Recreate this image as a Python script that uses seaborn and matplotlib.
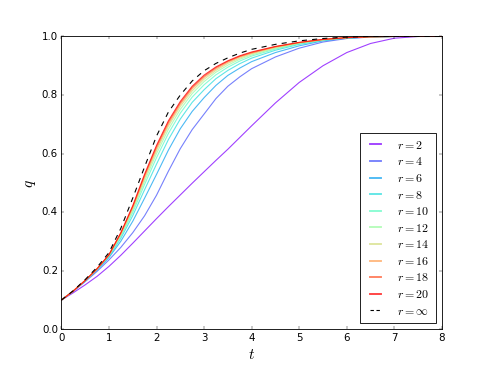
import numpy as np
import matplotlib
matplotlib.use("Agg")
import matplotlib.pyplot as plt
from matplotlib.lines import Line2D
import seaborn as sns

# time grid shared by all curves
t = [0, 0.25, 0.5, 0.75, 1.0, 1.25, 1.5, 1.75, 2.0, 2.25, 2.5, 2.75, 3.0,
     3.25, 3.5, 3.75, 4.0, 4.5, 5.0, 5.5, 6.0, 6.5, 7.0, 7.5, 8.0]

# q(t) for each r
q_r2 = [0.100, 0.125, 0.152, 0.181, 0.215, 0.253, 0.294, 0.336, 0.378, 0.419, 0.459,
        0.499, 0.538, 0.577, 0.615, 0.655, 0.695, 0.773, 0.843, 0.900, 0.945, 0.976,
        0.994, 1.000, 1.000]
q_r4 = [0.100, 0.130, 0.163, 0.198, 0.237, 0.280, 0.330, 0.388, 0.458, 0.540, 0.617,
        0.682, 0.735, 0.788, 0.830, 0.862, 0.890, 0.930, 0.960, 0.981, 0.993, 0.998,
        1.000, 1.000, 1.000]
q_r6 = [0.100, 0.130, 0.165, 0.202, 0.245, 0.301, 0.369, 0.448, 0.529, 0.612, 0.685,
        0.744, 0.791, 0.833, 0.867, 0.892, 0.914, 0.945, 0.968, 0.985, 0.994, 0.998,
        1.000, 1.000, 1.000]
q_r8 = [0.100, 0.131, 0.166, 0.204, 0.248, 0.311, 0.388, 0.477, 0.564, 0.648, 0.718,
        0.775, 0.818, 0.856, 0.884, 0.907, 0.926, 0.953, 0.973, 0.987, 0.995, 0.998,
        1.000, 1.000, 1.000]
q_r10 = [0.100, 0.131, 0.166, 0.205, 0.250, 0.318, 0.399, 0.495, 0.586, 0.669, 0.738,
         0.793, 0.835, 0.869, 0.895, 0.916, 0.933, 0.957, 0.975, 0.988, 0.995, 0.999,
         1.000, 1.000, 1.000]
q_r12 = [0.100, 0.131, 0.167, 0.206, 0.252, 0.322, 0.407, 0.506, 0.600, 0.683, 0.751,
         0.805, 0.846, 0.878, 0.902, 0.922, 0.937, 0.960, 0.977, 0.988, 0.995, 0.999,
         1.000, 1.000, 1.000]
q_r14 = [0.100, 0.131, 0.167, 0.206, 0.253, 0.325, 0.412, 0.515, 0.610, 0.694, 0.761,
         0.814, 0.854, 0.884, 0.908, 0.926, 0.941, 0.962, 0.978, 0.989, 0.996, 0.999,
         1.000, 1.000, 1.000]
q_r16 = [0.100, 0.131, 0.167, 0.206, 0.254, 0.327, 0.416, 0.521, 0.617, 0.701, 0.768,
         0.821, 0.860, 0.889, 0.912, 0.930, 0.943, 0.964, 0.979, 0.989, 0.996, 0.999,
         1.000, 1.000, 1.000]
q_r18 = [0.100, 0.131, 0.167, 0.207, 0.254, 0.329, 0.419, 0.526, 0.623, 0.707, 0.773,
         0.826, 0.864, 0.893, 0.915, 0.932, 0.945, 0.965, 0.979, 0.990, 0.996, 0.999,
         1.000, 1.000, 1.000]
q_r20 = [0.100, 0.131, 0.167, 0.207, 0.255, 0.330, 0.422, 0.530, 0.628, 0.712, 0.778,
         0.830, 0.868, 0.896, 0.917, 0.934, 0.947, 0.966, 0.980, 0.990, 0.996, 0.999,
         1.000, 1.000, 1.000]
q_inf = [0.100, 0.132, 0.170, 0.212, 0.262, 0.345, 0.448, 0.555, 0.660, 0.742, 0.800,
         0.848, 0.883, 0.908, 0.927, 0.943, 0.956, 0.973, 0.985, 0.993, 0.998, 1.000,
         1.000, 1.000, 1.000]

r_values = [2, 4, 6, 8, 10, 12, 14, 16, 18, 20]
curves = [q_r2, q_r4, q_r6, q_r8, q_r10, q_r12, q_r14, q_r16, q_r18, q_r20]

plt.style.use("classic")
plt.rcParams["figure.facecolor"] = "white"
plt.rcParams["savefig.facecolor"] = "white"

fig = plt.figure(figsize=(8, 5.966), dpi=61.375)
ax = fig.add_subplot(111)

colors = plt.cm.rainbow(np.linspace(0, 1, len(r_values)))
handles, labels = [], []
for r, q, c in zip(r_values, curves, colors):
    sns.lineplot(x=t, y=q, color=c, alpha=0.75, lw=1.3, ax=ax, legend=False)
    handles.append(Line2D([], [], color=c, alpha=0.75, lw=2.2))
    labels.append(r"$r = %d$" % r)
sns.lineplot(x=t, y=q_inf, color="k", ls="--", lw=1.3, ax=ax, legend=False)
handles.append(Line2D([], [], color="k", ls="--", lw=1.3, dashes=(4, 3)))
labels.append(r"$r = \infty$")

ax.set_xlim(0, 8)
ax.set_ylim(0, 1)
ax.set_xlabel(r"$t$", fontsize=18)
ax.set_ylabel(r"$q$", fontsize=18)
ax.legend(handles, labels, loc="lower right", fontsize=14,
          handlelength=1.5, handletextpad=1.1, borderpad=0.5, labelspacing=0.3)

fig.savefig("out.png", dpi=61.375)
